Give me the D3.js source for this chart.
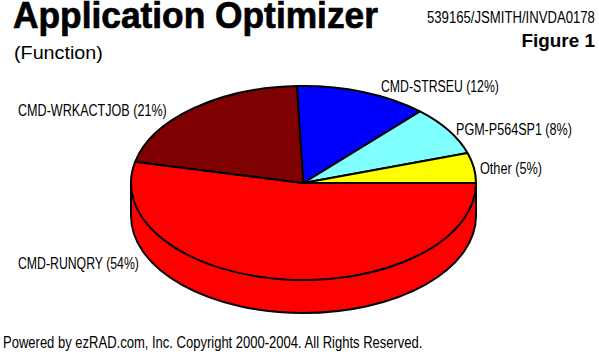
<!DOCTYPE html>
<html>
<head>
<meta charset="utf-8">
<script src="https://cdn.jsdelivr.net/npm/d3@7"></script>
<style>
  html, body { margin: 0; padding: 0; background: #fff; }
  svg { display: block; }
  text { fill: #000; font-family: "Liberation Sans", Arial, sans-serif; }
</style>
</head>
<body>
<div id="chart"></div>
<script>
var categories = ['CMD-RUNQRY','CMD-WRKACTJOB','CMD-STRSEU','PGM-P564SP1','Other'];
var shares = [53.5,20.9,12.4,8.2,5];
var colors = ['#ff0000','#7f0000','#0000ff','#7fffff','#ffff00'];

var titleText = 'Application Optimizer';
var subtitleText = '(Function)';
var idText = '539165/JSMITH/INVDA0178';
var figureText = 'Figure 1';
var footerText = 'Powered by ezRAD.com, Inc. Copyright 2000-2004. All Rights Reserved.';

var svgWidth = 599;
var svgHeight = 361;

var centerX = 303.5;
var centerY = 183;
var radiusX = 172.5;
var radiusY = 97;
var depth = 33;

// left edge, baseline and squeezed width of each slice label
var labelSpots = [[18,269,121],[18,116,149],[381,92,118],[456,135,116],[480,174,62]];

var svg = d3.select('#chart')
    .append('svg')
    .attr('width', svgWidth)
    .attr('height', svgHeight);

// wall first, the top of the pie sits over it
svg.append('path')
    .attr('d', `M${centerX - radiusX},${centerY} V${centerY + depth} A${radiusX},${radiusY} 0 0 0 ${centerX + radiusX},${centerY + depth} V${centerY} Z`)
    .attr('fill', colors[0])
    .attr('stroke', '#000')
    .attr('stroke-width', 2)
    .attr('stroke-linejoin', 'round');

var pie = d3.pie()
    .sort(null)
    .startAngle(Math.PI / 2)
    .endAngle(Math.PI * 2.5);

var arc = d3.arc()
    .innerRadius(0)
    .outerRadius(radiusX);

var pieGroup = svg.append('g')
    .attr('transform', `translate(${centerX},${centerY}) scale(1,${radiusY / radiusX})`);

pieGroup.selectAll('path')
    .data(pie(shares))
    .enter()
    .append('path')
    .attr('d', arc)
    .attr('fill', (d, i) => colors[i])
    .attr('stroke', '#000')
    .attr('stroke-width', 2)
    .attr('stroke-linejoin', 'round')
    .attr('vector-effect', 'non-scaling-stroke');

// the original face is a narrow Helvetica, so the text gets squeezed to fit
function addText(str, x, y, size, width, bold) {
    var t = svg.append('text')
        .attr('font-size', size)
        .attr('font-weight', bold ? 'bold' : 'normal')
        .text(str);
    var ratio = width / t.node().getComputedTextLength();
    t.attr('transform', `translate(${x},${y}) scale(${ratio},1)`);
    return t;
}

categories.forEach((d, i) => {
    addText(`${d} (${Math.round(shares[i])}%)`, labelSpots[i][0], labelSpots[i][1], 16.5, labelSpots[i][2], false);
});

addText(titleText, 13, 28, 36, 365, true)
    .attr('stroke', '#000')
    .attr('stroke-width', 0.7);

addText(subtitleText, 14, 59, 18.5, 89, false);
addText(idText, 427, 23, 16.5, 168, false);
addText(figureText, 521.5, 47, 19, 73.5, true);
addText(footerText, 3, 348, 17, 420, false);
</script>
</body>
</html>
